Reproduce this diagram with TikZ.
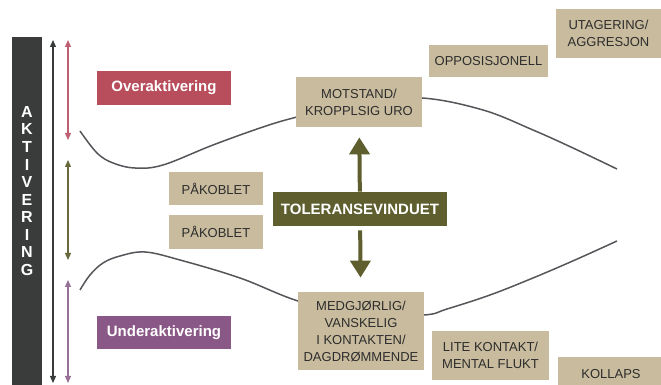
\documentclass[tikz,border=0pt]{standalone}
\usepackage{fontspec}
\setmainfont{Liberation Sans}
\usetikzlibrary{arrows.meta}
\definecolor{tan}{RGB}{201,188,158}
\definecolor{tekst}{RGB}{45,45,45}
\definecolor{over}{RGB}{184,78,92}
\definecolor{under}{RGB}{138,88,134}
\definecolor{oliven}{RGB}{94,94,46}
\definecolor{stolpe}{RGB}{58,60,60}
\definecolor{rosa}{RGB}{190,95,115}
\definecolor{olivpil}{RGB}{105,105,62}
\definecolor{lilla}{RGB}{150,112,150}
\definecolor{kurvefarge}{RGB}{85,85,90}

\begin{document}
\begin{tikzpicture}[x=0.5pt,y=-0.5pt,
  boks/.style={fill=tan,text=tekst,align=center,inner sep=0pt,font=\fontsize{6.5}{8.5}\selectfont},
  fargeboks/.style={fill=#1,text=white,align=center,inner sep=0pt,font=\fontsize{7.5}{9}\selectfont\bfseries},
  sidepil/.style={draw=#1,line width=0.6pt,{Triangle[width=3pt,length=3.5pt]}-{Triangle[width=3pt,length=3.5pt]}},
  storpil/.style={draw=oliven,line width=2pt,-{Triangle[width=10pt,length=8.5pt]}},
  kurve/.style={draw=kurvefarge,line width=0.75pt}]
  \useasboundingbox (0,0) rectangle (661,385);

  % Kurvene (bak boksene)
  \draw[kurve] plot[smooth,tension=0.6] coordinates {(80,131) (97,153) (113,163) (135,168) (163,165) (213,145) (263,127) (297,117) (360,102) (422,98) (483,110) (533,130) (573,148) (617,169)};
  \draw[kurve] plot[smooth,tension=0.6] coordinates {(80,290) (90,275) (103,263) (120,256) (145,252) (180,260) (240,278) (298,301) (360,316) (424,315) (447,309) (490,295) (533,278) (575,260) (617,241)};

  % Aktiveringsstolpe og piler
  \node[fill=stolpe,minimum width=15pt,minimum height=174pt,inner sep=0pt] (stolpe) at (27,211) {};
  \node[text=white,align=center,inner sep=0pt,font=\fontsize{8}{8.78}\selectfont\bfseries] (akt) at (27,191) {A\\K\\T\\I\\V\\E\\R\\I\\N\\G};
  \coordinate (s1) at (53,40);  \coordinate (s2) at (53,383);
  \coordinate (o1) at (68,40);  \coordinate (o2) at (68,140);
  \coordinate (t1) at (68,160); \coordinate (t2) at (68,260);
  \coordinate (u1) at (68,280); \coordinate (u2) at (68,383);
  \draw[sidepil=stolpe] (s1) -- (s2);
  \draw[sidepil=rosa] (o1) -- (o2);
  \draw[sidepil=olivpil] (t1) -- (t2);
  \draw[sidepil=lilla] (u1) -- (u2);

  % Fargede bokser
  \node[fargeboks=over,minimum width=67pt,minimum height=17pt]    (overakt)  at (164,88)    {Overaktivering};
  \node[fargeboks=under,minimum width=67pt,minimum height=16.5pt] (underakt) at (164,332.5) {Underaktivering};
  \node[fargeboks=oliven,minimum width=87pt,minimum height=17pt]  (toleranse) at (360,209)  {TOLERANSEVINDUET};

  % Beige bokser
  \node[boks,minimum width=47pt,minimum height=16.5pt] (pa1)  at (216,188.5) {PÅKOBLET};
  \node[boks,minimum width=47pt,minimum height=17pt]   (pa2)  at (216,232)   {PÅKOBLET};
  \node[boks,minimum width=63pt,minimum height=25pt]   (motstand) at (359,102) {MOTSTAND/\\KROPPLSIG URO};
  \node[boks,minimum width=59.5pt,minimum height=16pt] (opp)  at (488.5,61)  {OPPOSISJONELL};
  \node[boks,minimum width=52.5pt,minimum height=24.5pt] (utag) at (608.5,33.5) {UTAGERING/\\AGGRESJON};
  \node[boks,minimum width=63pt,minimum height=39pt]   (medgj) at (361,331)  {MEDGJØRLIG/\\VANSKELIG\\I KONTAKTEN/\\DAGDRØMMENDE};
  \node[boks,minimum width=58.5pt,minimum height=24.5pt] (lite) at (490.5,355.5) {LITE KONTAKT/\\MENTAL FLUKT};
  \node[boks,minimum width=53pt,minimum height=17pt]   (kollaps) at (611,374) {KOLLAPS};

  % Piler fra toleransevinduet
  \draw[storpil,shorten >=5pt] (toleranse) -- (motstand);
  \draw[storpil,shorten <=2pt,shorten >=7pt] (toleranse) -- (medgj);
\end{tikzpicture}
\end{document}
